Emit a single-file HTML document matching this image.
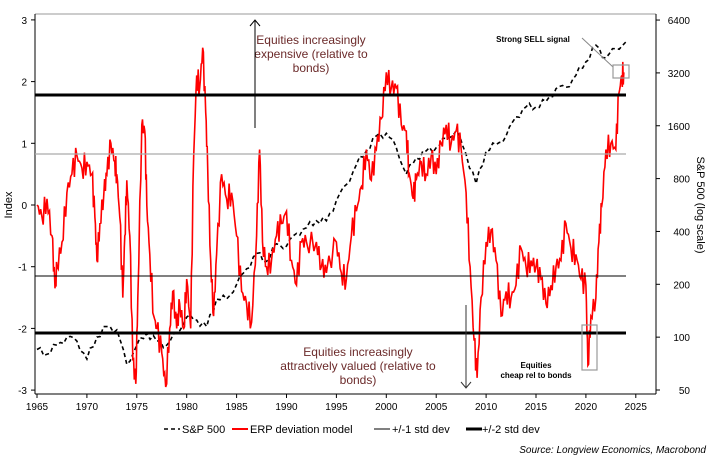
<!DOCTYPE html><html><head><style>body{margin:0;background:#fff}svg{display:block;font-family:"Liberation Sans",sans-serif}</style></head><body>
<svg id="s" width="714" height="461" xmlns="http://www.w3.org/2000/svg">
<line x1="35" y1="14" x2="656" y2="14" stroke="#999" stroke-width="1"/>
<line x1="35" y1="14" x2="35" y2="394" stroke="#000"/>
<line x1="656" y1="14" x2="656" y2="394" stroke="#000"/>
<line x1="35" y1="394" x2="656" y2="394" stroke="#000"/>
<g id="g"></g>
<line x1="35" y1="95" x2="626" y2="95" stroke="#000" stroke-width="3"/>
<line x1="35" y1="154" x2="626" y2="154" stroke="#aaa" stroke-width="1.2"/>
<line x1="35" y1="276" x2="626" y2="276" stroke="#000" stroke-width="1"/>
<line x1="35" y1="333" x2="626" y2="333" stroke="#000" stroke-width="3"/>
<g font-size="12" fill="#6b2a2a" text-anchor="middle">
<text x="311" y="44">Equities increasingly</text><text x="311" y="58">expensive (relative to</text><text x="311" y="72">bonds)</text>
<text x="358" y="356">Equities increasingly</text><text x="358" y="370">attractively valued (relative to</text><text x="358" y="384">bonds)</text></g>
<line x1="255" y1="128" x2="255" y2="21" stroke="#000"/><path d="M250,26 L255,20 L260,26" fill="none" stroke="#000"/>
<line x1="466" y1="305" x2="466" y2="388" stroke="#333"/><path d="M461,382 L466,388 L471,382" fill="none" stroke="#333"/>
<g font-size="8" font-weight="bold" text-anchor="middle"><text x="533" y="42">Strong SELL signal</text><text x="536" y="368">Equities</text><text x="536" y="378">cheap rel to bonds</text></g>
<line x1="582" y1="38" x2="613" y2="67" stroke="#888"/>
<rect x="613" y="65" width="16" height="13" fill="none" stroke="#999" stroke-width="1.2"/>
<rect x="582" y="325" width="15" height="45" fill="none" stroke="#999" stroke-width="1.2"/>
<g id="ax" font-size="10"></g>
<text transform="translate(12,205) rotate(-90)" font-size="11" text-anchor="middle">Index</text>
<text transform="translate(697,205) rotate(90)" font-size="11" text-anchor="middle">S&amp;P 500 (log scale)</text>
<g font-size="11">
<line x1="164" y1="429" x2="180" y2="429" stroke="#000" stroke-width="1.5" stroke-dasharray="4,3"/><text x="182" y="433">S&amp;P 500</text>
<line x1="232" y1="429" x2="248" y2="429" stroke="#f00" stroke-width="2"/><text x="250" y="433">ERP deviation model</text>
<line x1="374" y1="429" x2="390" y2="429" stroke="#000" stroke-width="1"/><text x="392" y="433">+/-1 std dev</text>
<line x1="466" y1="429" x2="482" y2="429" stroke="#000" stroke-width="3"/><text x="482" y="433">+/-2 std dev</text>
</g>
<text x="706" y="453" font-size="10" font-style="italic" text-anchor="end">Source: Longview Economics, Macrobond</text>
</svg>
<script>
var NS="http://www.w3.org/2000/svg";
function X(y){return 37+9.98*(y-1965)}function Y(v){return 205-61.7*v}function YS(s){return 390-52.85*Math.log2(s/50)}
function el(t,a,p){var e=document.createElementNS(NS,t);for(var k in a)e.setAttribute(k,a[k]);(p||document.getElementById('s')).appendChild(e);return e}
var ax=document.getElementById('ax');
[3,2,1,0,-1,-2,-3].forEach(function(v){el('line',{x1:31,x2:35,y1:Y(v),y2:Y(v),stroke:'#000'},ax);el('text',{x:27,y:Y(v)+4,'text-anchor':'end'},ax).textContent=v});
[6400,3200,1600,800,400,200,100,50].forEach(function(v){el('line',{x1:656,x2:660,y1:YS(v),y2:YS(v),stroke:'#000'},ax);el('text',{x:690,y:YS(v)+4,'text-anchor':'end'},ax).textContent=v});
for(var y=1965;y<=2025;y+=5){el('line',{x1:X(y),x2:X(y),y1:394,y2:398,stroke:'#000'},ax);el('text',{x:X(y),y:410,'text-anchor':'middle'},ax).textContent=y}
var sp=[1965,85,1966,80,1967,90,1968,100,1969,95,1970,75,1971,100,1972,115,1973,110,1974,70,1975,90,1976,105,1977,95,1978,90,1979,105,1980,130,1981,125,1982,115,1983,165,1984,165,1985,200,1986,245,1987,300,1988,270,1989,340,1990,330,1991,390,1992,420,1993,460,1994,460,1995,600,1996,740,1997,960,1998,1150,1999,1400,2000,1450,2001,1200,2002,850,2003,1050,2004,1150,2005,1200,2006,1350,2007,1500,2008,1100,2009,750,2010,1150,2011,1250,2012,1400,2013,1800,2014,2050,2015,2050,2016,2200,2017,2600,2018,2650,2019,3100,2020,3700,2021,4600,2022,3900,2023,4400,2024,4800];
var p=[];for(var i=0;i<sp.length-2;i+=2){for(var k=0;k<3;k++){var t=k/3;var s=sp[i+1]*Math.pow(sp[i+3]/sp[i+1],t)*(k==0?1:1+0.05*Math.sin(i*5+k*2));p.push(X(sp[i]+t).toFixed(1)+','+YS(s).toFixed(1))}}
p.push(X(2024)+','+YS(4800));
var g=document.getElementById('g');
el('polyline',{points:p.join(' '),fill:'none',stroke:'#000','stroke-width':1.6,'stroke-dasharray':'4,3'},g);
var r=[1965,0,1965.5,-0.2,1966,0.1,1966.5,-0.5,1966.8,-1.35,1967,-1.0,1967.5,-0.6,1968,0.2,1968.5,0.5,1969,0.8,1969.5,0.6,1970,0.7,1970.5,0.5,1970.8,-0.2,1971,-0.9,1971.3,-0.3,1971.7,0.2,1972,0.5,1972.4,1.0,1972.8,0.7,1973,0.5,1973.3,-0.2,1973.6,-1.5,1973.8,-0.5,1974,0.4,1974.3,-0.5,1974.6,-2.5,1974.9,-2.9,1975.1,-1.5,1975.5,1.3,1975.8,1.2,1976,0.0,1976.3,-0.8,1976.7,-1.8,1977,-2.0,1977.5,-2.4,1977.9,-2.95,1978.3,-2.0,1978.6,-1.4,1979,-2.0,1979.3,-1.6,1979.7,-2.0,1980,-1.2,1980.4,-2.0,1980.7,0.8,1981,2.1,1981.3,1.9,1981.6,2.55,1981.9,1.5,1982.1,0.6,1982.4,-0.9,1982.7,-1.8,1983,-0.8,1983.5,0.5,1984,0.1,1984.5,0.2,1985,-0.5,1985.5,-1.4,1986,-1.6,1986.5,-1.9,1987,-0.5,1987.3,0.9,1987.6,-0.6,1988,-1.0,1988.5,-0.9,1989,-0.5,1989.5,-0.3,1990,-0.1,1990.5,-0.9,1991,-1.3,1991.5,-0.6,1992,-0.6,1993,-0.6,1993.5,-1.0,1994,-1.1,1995,-0.6,1995.5,-1.1,1996,-1.2,1996.5,-0.5,1997,-0.1,1997.5,0.3,1998,0.9,1998.5,0.4,1999,0.9,1999.5,1.4,2000,2.15,2000.5,1.9,2001,1.9,2001.5,1.3,2002,1.2,2002.3,0.5,2002.7,0.1,2003,0.4,2003.5,0.7,2004,0.5,2004.5,0.8,2005,0.5,2005.5,1.0,2006,1.3,2006.5,1.0,2007,1.2,2007.5,0.9,2008,0.2,2008.4,-1.0,2008.8,-2.2,2009.1,-2.8,2009.5,-1.5,2010,-0.6,2010.5,-0.4,2011,-0.9,2011.5,-1.8,2012,-1.4,2012.5,-1.5,2013,-1.3,2013.5,-0.7,2014,-1.0,2014.5,-0.9,2015,-1.0,2015.5,-1.2,2016,-1.6,2016.5,-1.3,2017,-1.0,2017.5,-0.9,2018,-0.3,2018.5,-0.7,2019,-0.8,2019.5,-1.2,2020,-1.3,2020.2,-2.6,2020.5,-1.8,2021,-1.5,2021.3,-0.6,2021.6,0,2022,0.9,2022.5,1.0,2023,0.9,2023.3,1.8,2023.6,2.1,2023.8,2.15];
p=[];for(i=0;i<r.length-2;i+=2){var y0=r[i],v0=r[i+1],y1=r[i+2],v1=r[i+3];for(var k=0;k<4;k++){var t=k/4;var j=(k==0?0:Math.sin(i*7+k*3)*0.2);p.push(X(y0+(y1-y0)*t).toFixed(1)+','+Y(v0+(v1-v0)*t+j).toFixed(1))}}
p.push(X(2023.8)+','+Y(2.15));
el('polyline',{points:p.join(' '),fill:'none',stroke:'#f00','stroke-width':1.6},g);
</script>
</body></html>
